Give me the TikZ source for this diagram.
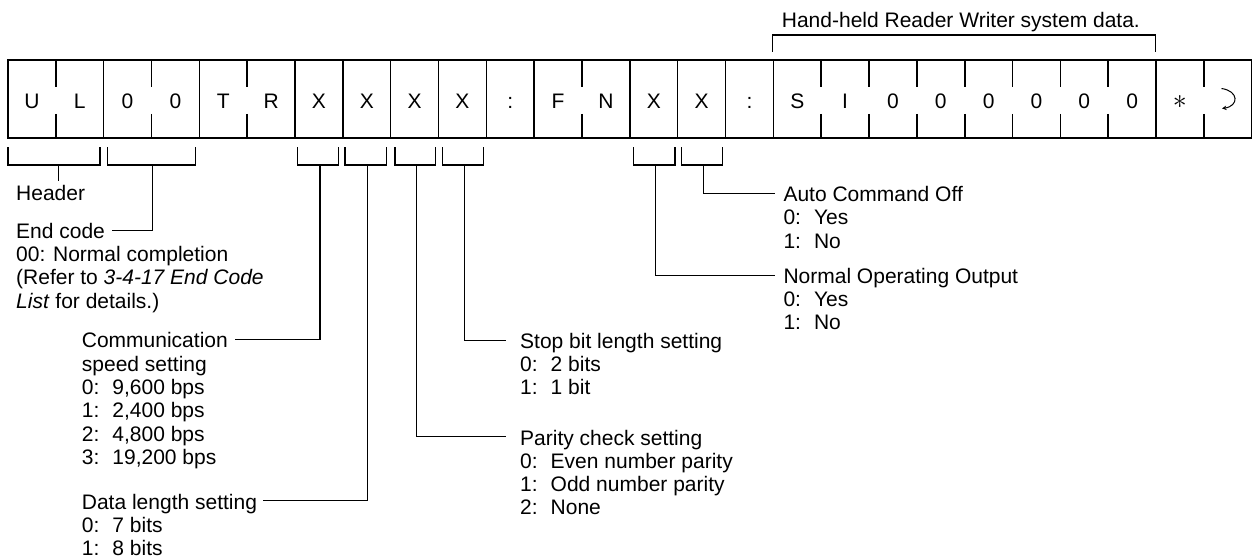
\documentclass[tikz,border=0pt]{standalone}
\usepackage{fontspec}
\setmainfont{Liberation Sans}
\usetikzlibrary{arrows.meta}
\newcommand\stk[1]{\vtop{\halign{##\hfil\cr#1\crcr}}}
\begin{document}
\begin{tikzpicture}[x=1bp,y=-1bp,
  every node/.style={font=\fontsize{21bp}{23.3bp}\selectfont},
  frame/.style={line width=1.6bp},
  brk/.style={line width=1.1bp},
  conn/.style={line width=1.1bp},
  celltxt/.style={anchor=base,inner sep=0},
  ttl/.style={anchor=base west,inner sep=0,text height=16.4bp,text depth=0pt},
  body/.style={anchor=base west,inner sep=0}
]
\useasboundingbox (0,0) rectangle (1252,559);
\def\cw{47.835}
\def\gp{\hspace{0.62em}}
% frame
\draw[frame] (8,60) rectangle (1251.7,138);
\foreach \i in {2,4,6,7,8,9,10,11,13,14,15,16,24}
  \draw[frame] ({8+\i*\cw},60) -- ({8+\i*\cw},138);
\foreach \i in {1,3,5,12,17,18,19,20,21,22,23,25}{
  \draw[frame] ({8+\i*\cw},60) -- ({8+\i*\cw},87.3);
  \draw[frame] ({8+\i*\cw},114) -- ({8+\i*\cw},138);
}
% cell texts
\foreach \t [count=\i from 0] in {U,L,0,0,T,R,X,X,X,X,:,F,N,X,X,:,S,I,0,0,0,0,0,0,{\scalebox{1.35}{$\ast$}}}
  \node[celltxt] (c\i) at ({8+(\i+0.5)*\cw},108.3) {\t};
% return symbol
\coordinate (ret1) at (1221.5,88.5);
\coordinate (ret2) at (1222,108.5);
\draw[line width=1bp,-{Stealth[length=4.5bp,width=4.5bp]}] (ret1) .. controls (1239,91) and (1239,106) .. (ret2);
% top bracket
\node[ttl] (hh) at (781.7,27.3) {Hand-held Reader Writer system data.};
\draw[brk] (772.7,51.7) |- (1155.3,35) -- (1155.3,51.7);
% lower brackets
\draw[brk] (8,147.3) |- (100,165) -- (100,147.3);
\draw[brk] (107.3,147.3) |- (195.7,165) -- (195.7,147.3);
\draw[brk] (297.3,147.3) |- (338.3,165) -- (338.3,147.3);
\draw[brk] (345,147.3) |- (386.7,165) -- (386.7,147.3);
\draw[brk] (395,147.3) |- (435.7,165) -- (435.7,147.3);
\draw[brk] (442.3,147.3) |- (483.3,165) -- (483.3,147.3);
\draw[brk] (633.3,147.3) |- (675,165) -- (675,147.3);
\draw[brk] (681.7,147.3) |- (722.7,165) -- (722.7,147.3);
\coordinate (hdrS) at (58.3,165);
\coordinate (endS) at (152.7,165);
\coordinate (comS) at (320,165);
\coordinate (datS) at (367.7,165);
\coordinate (parS) at (416.7,165);
\coordinate (stpS) at (464.3,165);
\coordinate (norS) at (655.7,165);
\coordinate (autS) at (703.3,165);
% texts
\node[ttl] (hdrT) at (16,200.7) {Header};
\node[ttl] (endT) at (16,238.3) {End code};
\node[body] (endB) at (16,261.7) {\stk{00: Normal completion\cr (Refer to \textit{3-4-17 End Code}\cr \textit{List} for details.)}};
\node[ttl] (comT) at (81.7,347.8) {Communication};
\node[body] (comB) at (81.7,371.1) {\stk{speed setting\cr 0:\gp9,600 bps\cr 1:\gp2,400 bps\cr 2:\gp4,800 bps\cr 3:\gp19,200 bps}};
\node[ttl] (datT) at (81.7,509) {Data length setting};
\node[body] (datB) at (81.7,532.3) {\stk{0:\gp7 bits\cr 1:\gp8 bits}};
\node[ttl] (stpT) at (520,348.3) {Stop bit length setting};
\node[body] (stpB) at (520,371.6) {\stk{0:\gp2 bits\cr 1:\gp1 bit}};
\node[ttl] (parT) at (520,445) {Parity check setting};
\node[body] (parB) at (520,468.3) {\stk{0:\gp Even number parity\cr 1:\gp Odd number parity\cr 2:\gp None}};
\node[ttl] (autT) at (783.3,201.7) {Auto Command Off};
\node[body] (autB) at (783.3,225) {\stk{0:\gp Yes\cr 1:\gp No}};
\node[ttl] (norT) at (783.3,283.3) {Normal Operating Output};
\node[body] (norB) at (783.3,306.6) {\stk{0:\gp Yes\cr 1:\gp No}};
% connectors
\coordinate (hdrE) at (hdrS |- hdrT.north);
\draw[conn] (hdrS) -- ([yshift=3bp]hdrE);
\draw[conn] (endS) |- ([xshift=7bp]endT.east);
\draw[conn] (comS) |- ([xshift=7bp]comT.east);
\draw[conn] (datS) |- ([xshift=6bp]datT.east);
\draw[conn] (stpS) |- ([xshift=-14bp]stpT.west);
\draw[conn] (parS) |- ([xshift=-14bp]parT.west);
\draw[conn] (autS) |- ([xshift=-8bp]autT.west);
\draw[conn] (norS) |- ([xshift=-8bp]norT.west);
\end{tikzpicture}
\end{document}
